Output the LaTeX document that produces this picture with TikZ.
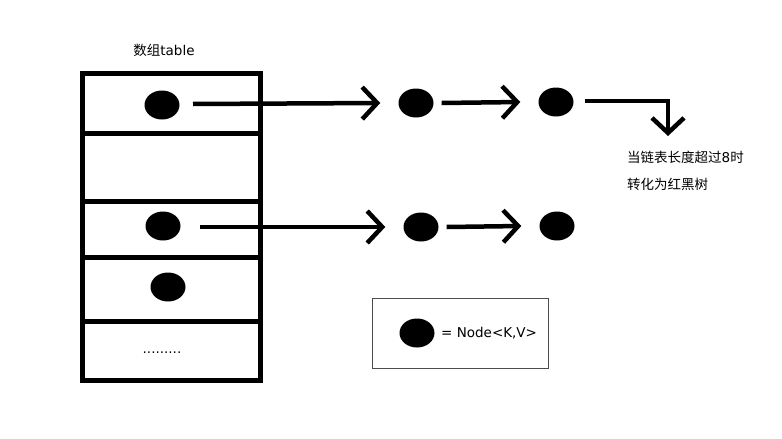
\documentclass[tikz,border=0pt]{standalone}
\usepackage{fontspec}
\setmainfont{DejaVu Sans}
\newfontfamily\cjk{Noto Sans CJK SC}
\usetikzlibrary{arrows.meta,shapes.geometric}
\begin{document}
\begin{tikzpicture}[x=1pt,y=-1pt,
  thick line/.style={line width=5pt},
  dot/.style={ellipse,fill=black,minimum width=35pt,minimum height=29pt,inner sep=0pt},
  link/.style={line width=4.5pt,-{Straight Barb[length=15pt,width=32pt,line width=4.5pt]}},
  lbl/.style={font=\fontsize{13.5pt}{16pt}\selectfont,inner sep=0pt}]
\useasboundingbox (0,0) rectangle (782,439);
% table
\draw[thick line] (82,73) rectangle (260,380);
\foreach \yy in {133,201,257,321} \draw[thick line] (82,\yy) -- (262,\yy);
\node[lbl] (title) at (164,50) {{\cjk 数组}table};
% row 1
\node[dot] (a0) at (162,105) {};
\coordinate (s1) at (193,104);
\node[dot] (a1) at (416,103) {};
\node[dot] (a2) at (556,102) {};
\draw[link] (s1) -- ([xshift=-18pt]a1.west);
\draw[link] ([xshift=8pt]a1.east) -- ([xshift=-18pt]a2.west);
\coordinate (s2) at (585,101);
\coordinate (t1) at (668,136);
\draw[link] (s2) -- (668,101) -- (t1);
\node[lbl,anchor=west] (n1) at (627,157) {{\cjk 当链表长度超过}8{\cjk 时}};
\node[lbl,anchor=west] (n2) at (627,184) {\cjk 转化为红黑树};
% row 3
\node[dot] (b0) at (163,226) {};
\coordinate (s3) at (200,227);
\node[dot] (b1) at (421,227) {};
\node[dot] (b2) at (557,226) {};
\draw[link] (s3) -- ([xshift=-18pt]b1.west);
\draw[link] ([xshift=8pt]b1.east) -- ([xshift=-18pt]b2.west);
% row 4
\node[dot] (c0) at (168,287) {};
\node[lbl] (dots) at (162,353) {.........};
% legend
\node[draw=black!70,line width=1pt,minimum width=176pt,minimum height=70pt] (leg) at (460,333) {};
\node[dot] (ld) at (417,333) {};
\node[lbl,anchor=west] (lt) at (441,333) {= Node<K,V>};
\end{tikzpicture}
\end{document}
